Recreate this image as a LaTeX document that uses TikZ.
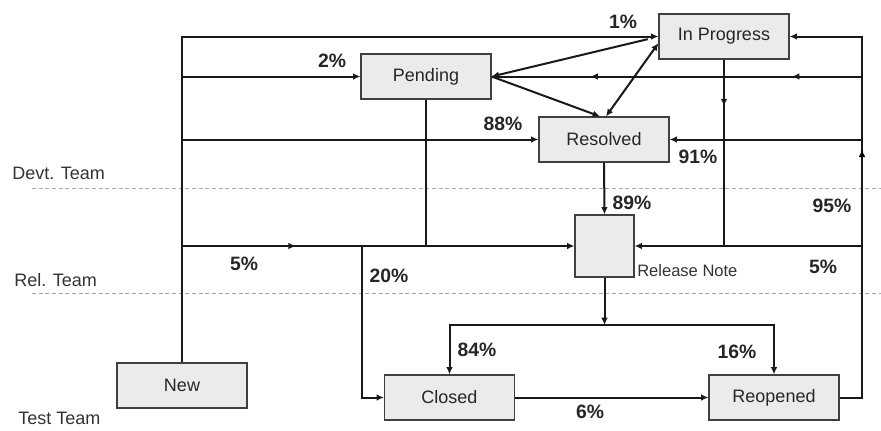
\documentclass[tikz,border=0pt]{standalone}
\usepackage{fontspec}
\setmainfont{Liberation Sans}
\usetikzlibrary{arrows.meta,decorations.markings}
\begin{document}
\begin{tikzpicture}[x=0.75pt,y=-0.75pt,
  box/.style={draw=black!75, fill=black!8, line width=0.9pt, minimum width=97.5pt,
    minimum height=33.75pt, inner sep=0pt, font=\fontsize{13.5pt}{16pt}\selectfont, text=black!85},
  conn/.style={line width=1.5pt, draw=black!90},
  tip/.style={-{Latex[length=5.5pt,width=5pt]}},
  tipboth/.style={{Latex[length=5.5pt,width=5pt]}-{Latex[length=5.5pt,width=5pt]}},
  midarr/.style={postaction={decorate}, decoration={markings,
    mark=at position #1 with {\arrow{Latex[length=5.5pt,width=5pt]}}}},
  midtwo/.style 2 args={postaction={decorate}, decoration={markings,
    mark=at position #1 with {\arrow{Latex[length=5.5pt,width=5pt]}},
    mark=at position #2 with {\arrow{Latex[length=5.5pt,width=5pt]}}}},
  pct/.style={font=\fontsize{14.5pt}{17pt}\selectfont\bfseries, text=black!85, inner sep=0pt},
  team/.style={font=\fontsize{13.5pt}{16pt}\selectfont, text=black!80, inner sep=0pt, anchor=west},
  lane/.style={draw=black!35, dash pattern=on 3pt off 2pt, line width=0.6pt}
]
\useasboundingbox (0,0) rectangle (881,430);
\fill[white] (0,0) rectangle (881,430);

% lanes
\draw[lane] (32,188) -- (881,188);
\draw[lane] (32,293) -- (881,293);
\node[team] (devt) at (12,173) {Devt. Team};
\node[team] (rel) at (14,280) {Rel. Team};
\node[team] (test) at (18,418) {Test Team};

% states
\node[box] (ip) at (724,36.5) {In Progress};
\node[box] (pend) at (426,76.5) {Pending};
\node[box] (res) at (604,139.5) {Resolved};
\node[box, minimum width=44.25pt, minimum height=46.5pt] (rn) at (604.5,246) {};
\node[anchor=west, inner sep=0pt, font=\fontsize{12.4pt}{14pt}\selectfont, text=black!80] (rnl) at (637,271) {Release Note};
\node[box] (new) at (182,385.5) {New};
\node[box] (closed) at (449.5,397.5) {Closed};
\node[box] (reop) at (774,397.5) {Reopened};

\coordinate (rx) at (862,0);
\coordinate (j20) at (362,246);
\coordinate (split) at (604.5,325);

% left trunk
\draw[conn,tip] (new.north) |- (ip.west);
\draw[conn,tip] (new.north |- pend.west) -- (pend.west);
\draw[conn,tip] (new.north |- res.west) -- (res.west);
\draw[conn,tip,midarr=0.29] (new.north |- rn.west) -- (rn.west);
\draw[conn] (pend.south) -- (pend.south |- rn.west);
\draw[conn,tip] (j20) |- (closed.west);

% diagonals
\draw[conn,tip] ([xshift=-8pt,yshift=-2pt]ip.west) -- (pend.east);
\draw[conn,tip] (pend.east) -- ([xshift=-3pt]res.north);
\draw[conn,tipboth] ([yshift=-5pt]ip.west) -- ([xshift=1.5pt]res.north);

% right trunk
\draw[conn,tip] (reop.east) -| (rx |- ip.east) -- (ip.east);
\path[midarr=0.686] (rx |- reop.east) -- (rx |- ip.east);
\draw[conn,tip,midtwo={0.189}{0.733}] (rx |- pend.east) -- (pend.east);
\draw[conn,tip] (rx |- res.east) -- (res.east);
\draw[conn,tip] (rx |- rn.east) -- (rn.east);
\draw[conn,midarr=0.25] (ip.south) -- (ip.south |- rn.east);

% center
\draw[conn,tip] (res.south) -- (rn.north);
\draw[conn,tip] (rn.south) -- (split);
\draw[conn,tip] (split) -| (closed.north);
\draw[conn,tip] (split) -| (reop.north);
\draw[conn,tip] (closed.east) -- (reop.west);

% percentages
\node[pct] (p1) at (623,22) {1\%};
\node[pct] (p2) at (332,61) {2\%};
\node[pct] (p88) at (503,124) {88\%};
\node[pct] (p91) at (698,157) {91\%};
\node[pct] (p89) at (632,203) {89\%};
\node[pct] (p95) at (832,206) {95\%};
\node[pct] (p5r) at (823,267) {5\%};
\node[pct] (p5l) at (244,264) {5\%};
\node[pct] (p20) at (389,276) {20\%};
\node[pct] (p84) at (477,350) {84\%};
\node[pct] (p16) at (737,352) {16\%};
\node[pct] (p6) at (590,412) {6\%};
\end{tikzpicture}
\end{document}
